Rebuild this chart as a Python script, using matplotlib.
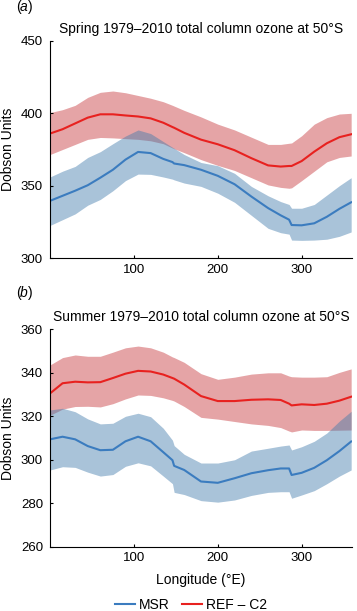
import numpy as np
import matplotlib
matplotlib.use("Agg")
import matplotlib.pyplot as plt

plt.rcParams["font.family"] = ["Liberation Sans", "DejaVu Sans"]

## Data
lon = [0, 15, 30, 45, 60, 75, 90, 105, 120, 135, 146, 148, 160, 180, 200,
       220, 240, 260, 275, 285, 288, 300, 315, 330, 345, 359]

# spring
spr_ref = [386, 389, 393, 397, 399.3, 399.3, 398.5, 397.8, 396.5, 393.5, 390.5, 390,
           386.5, 381.8, 378.6, 374.5, 369, 364, 363.2, 363.6, 363.6, 367, 373.5,
           379.3, 383.5, 385.5]
spr_ref_hi = [400.5, 402.5, 405.5, 411, 414.5, 415.4, 414.2, 412.3, 410.4, 408, 405.5,
              405, 402, 397.5, 392.5, 388.5, 383.5, 378.5, 378.5, 379.3, 379.5, 384.5,
              392.5, 397, 399.5, 400]
spr_ref_lo = [371.5, 375, 378.5, 382, 383.3, 383, 382.5, 382, 381, 379, 376, 375.5,
              372.8, 368, 364, 360.5, 355.5, 350.5, 348.8, 348.2, 348.5, 353.5, 360,
              366.5, 369.5, 370.5]
spr_msr = [339.5, 343, 346.5, 350.3, 355.5, 361, 368, 373.3, 372.5, 368.5, 366.3, 365.3,
           364.2, 361, 356.8, 351, 342.5, 334.5, 329.5, 326.5, 322.8, 322.6, 324,
           328.5, 334, 338.5]
spr_msr_hi = [356, 360, 363.3, 369.5, 373.5, 379, 384.3, 388.5, 386, 380.5, 376.5, 375.8,
              371.5, 366, 363.8, 358.5, 349.5, 343, 339, 337, 334.4, 334.4, 337, 343.5,
              350, 355.5]
spr_msr_lo = [322.5, 326.5, 330.5, 336.5, 340.5, 346.5, 353.5, 358, 357.8, 356, 354.5, 354,
              351.8, 349.5, 344.8, 338.5, 329.5, 320.5, 317.5, 316.5, 312.4, 312.2,
              312.4, 313, 315, 318]

# summer
sum_ref = [330.5, 335.2, 335.9, 335.6, 335.7, 337.6, 339.6, 340.9, 340.6, 339.2, 337.6,
           337.3, 334.6, 329.3, 327, 327, 327.6, 327.8, 327.5, 325.8, 325, 325.5,
           325.2, 325.8, 327.2, 329]
sum_ref_hi = [343.6, 347, 348.2, 347.6, 347.6, 349.5, 351.5, 352.3, 351.5, 349.5, 347.3,
              347, 344.8, 339.6, 337, 338, 339.4, 340, 340, 338.5, 338.2, 338, 338,
              338.2, 340.2, 341.8]
sum_ref_lo = [320.5, 323.3, 324.5, 324.6, 324.3, 325.8, 328, 329.8, 329.6, 328.5, 327.3,
              327, 324.5, 319.5, 318.7, 317.6, 316.5, 315.8, 314.8, 313.2, 312.8, 313.7,
              313.5, 313.5, 313.6, 313.7]
sum_msr = [309.4, 310.6, 309.4, 306.3, 304.4, 304.6, 308.5, 310.6, 308.5, 303.5, 299.8,
           297.2, 295.3, 290, 289.4, 291.5, 293.8, 295.2, 296, 296, 293, 294, 296.3,
           299.8, 304, 308.4]
sum_msr_hi = [322.9, 323.7, 322.1, 318.8, 316.5, 316.8, 320, 321.4, 319.8, 314.5, 309,
              306.5, 302.5, 298.5, 298.5, 300, 304, 305.3, 306.3, 306.8, 304.5, 306,
              308.5, 312.3, 317.8, 322.3]
sum_msr_lo = [295.3, 296.8, 296.5, 294.3, 292.5, 293.2, 297, 298.6, 297.2, 292.5, 289,
              285, 284, 281.2, 280.5, 281.5, 283.6, 285, 285.3, 285.3, 282.3, 283.8,
              285.8, 289, 292.5, 295.3]

blue = '#3b7cbf'
red = '#e8211f'
blue_fill = '#407aab'
red_fill = '#c6353a'

fig = plt.figure(figsize=(3.57, 6.11), dpi=100)
ax1 = fig.add_axes([0.140, 0.5777, 0.846, 0.3553])
ax2 = fig.add_axes([0.140, 0.1052, 0.846, 0.3558])

def panel(ax, ref, ref_hi, ref_lo, msr, msr_hi, msr_lo, title, yticks):
    ax.fill_between(lon, ref_lo, ref_hi, color=red_fill, alpha=0.45, lw=0)
    ax.fill_between(lon, msr_lo, msr_hi, color=blue_fill, alpha=0.45, lw=0)
    ax.plot(lon, msr, color=blue, lw=1.5, label='MSR')
    ax.plot(lon, ref, color=red, lw=1.5, label='REF \u2013 C2')
    ax.set_xlim(0, 360)
    ax.set_ylim(yticks[0], yticks[-1])
    ax.set_xticks([100, 200, 300])
    ax.set_yticks(yticks)
    ax.spines['top'].set_visible(False)
    ax.spines['right'].set_visible(False)
    ax.tick_params(direction='in', length=2.5, width=0.8, labelsize=9.5)
    ax.tick_params(axis='y', pad=5)
    ax.tick_params(axis='x', pad=4)
    ax.set_title(title, fontsize=10, pad=6)
    ax.set_ylabel('Dobson Units', fontsize=10, labelpad=4)

panel(ax1, spr_ref, spr_ref_hi, spr_ref_lo, spr_msr, spr_msr_hi, spr_msr_lo,
      'Spring 1979\u20132010 total column ozone at 50\u00b0S', [300, 350, 400, 450])
panel(ax2, sum_ref, sum_ref_hi, sum_ref_lo, sum_msr, sum_msr_hi, sum_msr_lo,
      'Summer 1979\u20132010 total column ozone at 50\u00b0S', [260, 280, 300, 320, 340, 360])
ax2.set_xlabel('Longitude (\u00b0E)', fontsize=10, labelpad=6)

# panel letters, italic inside upright brackets
for y, letter in [(0.989, 'a'), (0.520, 'b')]:
    fig.text(0.045, y, '(', fontsize=10, va='center', ha='left')
    fig.text(0.055, y, letter, fontsize=10, va='center', ha='left', style='italic')
    fig.text(0.077, y, ')', fontsize=10, va='center', ha='left')

h, l = ax2.get_legend_handles_labels()
fig.legend(h, l, loc='center', bbox_to_anchor=(0.535, 0.010), ncol=2, frameon=False,
           fontsize=10, handlelength=1.45, handletextpad=0.3, columnspacing=0.9)

fig.savefig('out.png', dpi=100)
